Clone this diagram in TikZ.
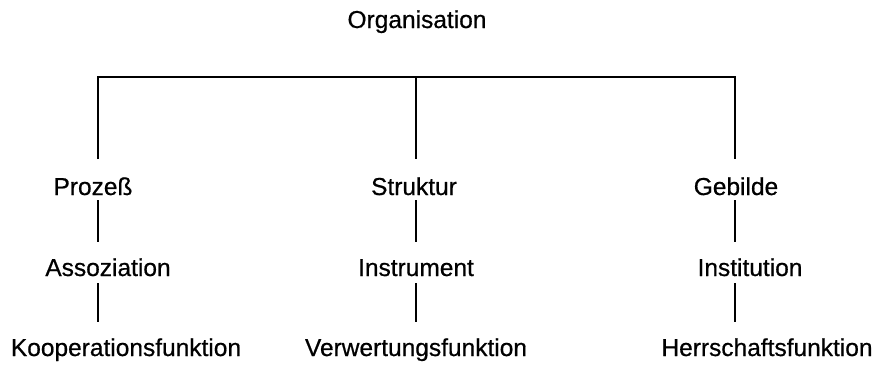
\documentclass[tikz,border=0pt]{standalone}
\usepackage{fontspec}
\setmainfont{Liberation Sans}[BoldFont={Liberation Sans},BoldFeatures={FakeBold=0.6}]
\begin{document}
\begin{tikzpicture}[x=1pt,y=-1pt,
  lbl/.style={anchor=base,inner sep=0pt,font=\fontsize{24.5}{28}\selectfont\bfseries},
  ln/.style={line width=1.7pt,line cap=butt}]
\useasboundingbox (0,0) rectangle (877,364);
% texts
\node[lbl] (org) at (417,28) {Organisation};
\node[lbl] (p1) at (93,195) {Prozeß};
\node[lbl] (s1) at (414,195) {Struktur};
\node[lbl] (g1) at (736,195) {Gebilde};
\node[lbl] (p2) at (108,276) {Assoziation};
\node[lbl] (s2) at (416,276) {Instrument};
\node[lbl] (g2) at (750,276) {Institution};
\node[lbl] (p3) at (126,356) {Kooperationsfunktion};
\node[lbl] (s3) at (416,356) {Verwertungsfunktion};
\node[lbl] (g3) at (767,356) {Herrschaftsfunktion};
% connector points
\coordinate (bl) at (98,77);
\coordinate (bm) at (416,77);
\coordinate (br) at (735,77);
\coordinate (pa) at (98,159);
\coordinate (sa) at (416,159);
\coordinate (ga) at (735,159);
\coordinate (pb1) at (98,200); \coordinate (pb2) at (98,242);
\coordinate (sb1) at (416,200); \coordinate (sb2) at (416,242);
\coordinate (gb1) at (735,200); \coordinate (gb2) at (735,242);
\coordinate (pc1) at (98,283); \coordinate (pc2) at (98,322);
\coordinate (sc1) at (416,283); \coordinate (sc2) at (416,322);
\coordinate (gc1) at (735,283); \coordinate (gc2) at (735,322);
\draw[ln] (pa) -- (bl) -- (br) -- (ga);
\draw[ln] (bm) -- (sa);
\draw[ln] (pb1) -- (pb2);
\draw[ln] (sb1) -- (sb2);
\draw[ln] (gb1) -- (gb2);
\draw[ln] (pc1) -- (pc2);
\draw[ln] (sc1) -- (sc2);
\draw[ln] (gc1) -- (gc2);
\end{tikzpicture}
\end{document}
